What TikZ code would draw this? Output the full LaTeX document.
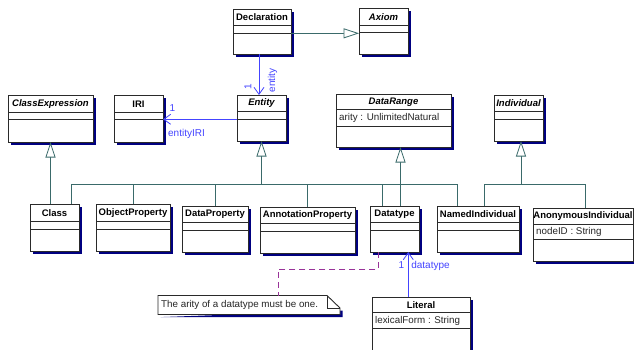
\documentclass[tikz,border=0pt]{standalone}
\usepackage{fontspec}
\setmainfont{Liberation Sans}
\usetikzlibrary{arrows.meta,shadows,calc}

\definecolor{shadowblue}{HTML}{000080}
\definecolor{genteal}{HTML}{3A6A6A}
\definecolor{assocblue}{HTML}{4444FF}
\definecolor{notepurple}{HTML}{993399}
\definecolor{boxedge}{HTML}{2A2A2A}

\tikzset{
  umlbox/.style={draw=boxedge, line width=0.9pt, fill=white, inner sep=0pt,
    outer sep=0pt, anchor=north west,
    drop shadow={shadow xshift=2.6pt, shadow yshift=-2.6pt, fill=shadowblue, opacity=1}},
  divider/.style={draw=boxedge, line width=0.9pt},
  titletext/.style={font=\fontsize{9.5}{11}\selectfont\bfseries, inner sep=0pt},
  abstracttext/.style={font=\fontsize{9.5}{11}\selectfont\bfseries\itshape, inner sep=0pt},
  attrtext/.style={font=\fontsize{9.8}{11}\selectfont, inner sep=0pt, anchor=west, text=black!85},
  rolelabel/.style={font=\fontsize{10}{12}\selectfont, text=assocblue, inner sep=0pt},
  genline/.style={draw=genteal, line width=0.8pt},
  gen/.style={genline, -{Triangle[open, length=15.5pt, width=10pt, fill=white]}},
  assoc/.style={draw=assocblue, line width=0.8pt, -{Straight Barb[length=7pt, width=10pt]}},
  notelink/.style={draw=notepurple, line width=0.8pt, dash pattern=on 6pt off 4pt},
}

% class box: name, x1, y1, x2, y2, first divider, second divider, title, title style
\newcommand\umlclass[9]{%
  \node[umlbox, minimum width={(#4-#2)*1pt}, minimum height={(#5-#3)*1pt}] (#1) at (#2,#3) {};
  \draw[divider] (#2,#6) -- (#4,#6);
  \draw[divider] (#2,#7) -- (#4,#7);
  \node[#9] (#1-title) at ({(#2+#4)/2},{(#3+#6)/2}) {#8};
}

\begin{document}
\begin{tikzpicture}[x=1pt, y=-1pt]
  \useasboundingbox (0,0) rectangle (634,349);
  \fill[white] (0,0) rectangle (634,349);
  \clip (0,0) rectangle (634,349);

  % classes
  \umlclass{decl}{233}{9}{291}{54}{25}{33}{Declaration}{titletext}
  \umlclass{axiom}{359}{8.5}{408}{54}{25}{32}{Axiom}{abstracttext}
  \umlclass{cexpr}{8}{95}{93}{142}{112.5}{119.5}{ClassExpression}{abstracttext}
  \umlclass{iri}{114}{95}{163}{142}{112.5}{119.5}{IRI}{titletext}
  \umlclass{entity}{237}{95}{286}{141}{111.5}{119.5}{Entity}{abstracttext}
  \umlclass{datarange}{336}{94.5}{451}{147}{109.5}{126}{DataRange}{abstracttext}
  \node[attrtext] (datarange-attr) at (339,117.5) {arity : UnlimitedNatural};
  \umlclass{individual}{494}{95}{543}{141}{111.5}{119.5}{Individual}{abstracttext}

  \umlclass{class}{30}{204}{79}{251}{221.5}{229.5}{Class}{titletext}
  \umlclass{objprop}{96}{204}{170}{251}{221.5}{229.5}{ObjectProperty}{titletext}
  \umlclass{dataprop}{182}{206}{248}{252}{222.5}{230.5}{DataProperty}{titletext}
  \umlclass{annprop}{260}{207}{355}{253}{223.5}{231.5}{AnnotationProperty}{titletext}
  \umlclass{datatype}{370}{206}{419}{252}{222.5}{230.5}{Datatype}{titletext}
  \umlclass{namedind}{437}{206}{519}{252}{222.5}{230.5}{NamedIndividual}{titletext}
  \umlclass{anonind}{533}{208}{633}{261}{224.5}{239.5}{AnonymousIndividual}{titletext}
  \node[attrtext] (anonind-attr) at (536,232) {nodeID : String};
  \umlclass{literal}{372}{297}{470}{360}{312.5}{328.5}{Literal}{titletext}
  \node[attrtext] (literal-attr) at (375,320.5) {lexicalForm : String};

  % note with folded corner
  \node[inner sep=0pt, outer sep=0pt, anchor=north west,
        minimum width=182pt, minimum height=19pt] (note) at (158,295.5) {};
  \fill[shadowblue] ([shift={(2.6pt,-2.6pt)}]note.south west)
    -- ([shift={(2.6pt,-2.6pt)}]note.south east)
    -- ([shift={(2.6pt,-15pt)}]note.north east) -- cycle;
  \draw[boxedge, line width=0.9pt, fill=white]
    (note.north west) -- ([xshift=-13pt]note.north east)
    -- ([yshift=-12.5pt]note.north east) -- (note.south east)
    -- (note.south west) -- cycle;
  \draw[boxedge, line width=0.7pt]
    ([xshift=-13pt]note.north east) -- ([xshift=-13pt, yshift=-12.5pt]note.north east)
    -- ([yshift=-12.5pt]note.north east);
  \node[attrtext] (note-text) at ([xshift=3pt, yshift=0.5pt]note.west)
    {The arity of a datatype must be one.};

  % generalizations
  \draw[gen] ([yshift=-1.8pt]decl.east) -- ([yshift=-1.8pt]decl.east -| axiom.west);
  \draw[gen] (class.north -| cexpr.south) -- (cexpr.south);

  \coordinate (ebus) at (261.5,184);
  \draw[gen] (ebus) -- (entity.south);
  \draw[genline] ([xshift=17pt]class.north) |- ([xshift=-20.5pt]namedind.north |- ebus)
    -- ([xshift=-20.5pt]namedind.north);
  \draw[genline] (objprop.north) -- (objprop.north |- ebus);
  \draw[genline] (dataprop.north) -- (dataprop.north |- ebus);
  \draw[genline] (annprop.north) -- (annprop.north |- ebus);
  \draw[genline] ([xshift=-12pt]datatype.north) -- ([xshift=-12pt]datatype.north |- ebus);

  \draw[gen] ([xshift=6pt]datatype.north) -- ([xshift=6pt]datatype.north |- datarange.south);

  \coordinate (ibus) at (521,184);
  \draw[gen] (ibus) -- (ibus |- individual.south);
  \draw[genline] ([xshift=6.5pt]namedind.north) |- ([xshift=2.5pt]anonind.north |- ibus)
    -- ([xshift=2.5pt]anonind.north);

  % associations
  \draw[assoc] ([xshift=-3pt]decl.south) -- ([xshift=-3pt]decl.south |- entity.north);
  \node[rolelabel, rotate=90] (decl-mult) at (248,87) {1};
  \node[rolelabel, rotate=90] (decl-role) at (272.5,80.5) {entity};

  \draw[assoc] ([yshift=-1.3pt]entity.west) -- ([yshift=-1.3pt]entity.west -| iri.east);
  \node[rolelabel] (iri-mult) at (172.5,108) {1};
  \node[rolelabel] (iri-role) at (186.5,134) {entityIRI};

  \draw[assoc] ([xshift=-12.7pt]literal.north) -- ([xshift=-12.7pt]literal.north |- datatype.south);
  \node[rolelabel] (dt-mult) at (401.5,265.5) {1};
  \node[rolelabel] (dt-role) at (430.5,265.5) {datatype};

  % note anchor
  \draw[notelink] ([xshift=-16.2pt]datatype.south) -- ++(0,17) -| ([xshift=29.3pt]note.north);
\end{tikzpicture}
\end{document}
